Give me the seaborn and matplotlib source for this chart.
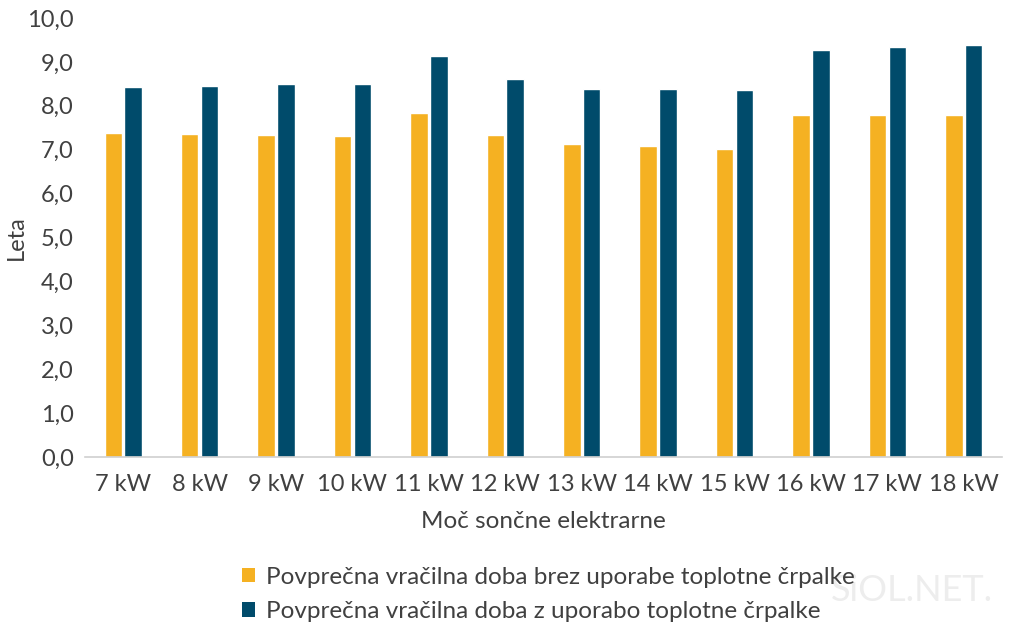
import matplotlib
matplotlib.use("Agg")
import matplotlib.pyplot as plt
import seaborn as sns
import pandas as pd
from matplotlib.ticker import FuncFormatter, MultipleLocator
from matplotlib.patches import Patch

categories = ["7 kW", "8 kW", "9 kW", "10 kW", "11 kW", "12 kW",
              "13 kW", "14 kW", "15 kW", "16 kW", "17 kW", "18 kW"]
brez = [7.39, 7.36, 7.34, 7.32, 7.83, 7.33, 7.12, 7.09, 7.02, 7.78, 7.79, 7.80]
z_crpalko = [8.43, 8.46, 8.49, 8.49, 9.13, 8.60, 8.39, 8.39, 8.35, 9.28, 9.33, 9.38]
series_names = ["Povprečna vračilna doba brez uporabe toplotne črpalke",
                "Povprečna vračilna doba z uporabo toplotne črpalke"]
colors = ["#F5B122", "#004B6B"]

df = pd.DataFrame({
    "cat": categories * 2,
    "val": brez + z_crpalko,
    "serie": [series_names[0]] * len(categories) + [series_names[1]] * len(categories),
})

sns.set_theme(style="white")
plt.rcParams["font.family"] = ["Lato", "DejaVu Sans"]

fig = plt.figure(figsize=(10.24, 6.38), dpi=100)
ax = fig.add_axes([0.083, 0.2837, 0.8955, 0.6881])

sns.barplot(data=df, x="cat", y="val", hue="serie", palette=colors,
            width=0.52, gap=0.12, ax=ax, legend=False, saturation=1)

ax.set_ylim(0, 10)
ax.set_xlim(-0.5, len(categories) - 0.5)
ax.yaxis.set_major_locator(MultipleLocator(1))
ax.yaxis.set_major_formatter(FuncFormatter(lambda v, p: f"{v:.1f}".replace(".", ",")))

for s in ["top", "right", "left"]:
    ax.spines[s].set_visible(False)
ax.spines["bottom"].set_color("#d0d0d0")
ax.spines["bottom"].set_linewidth(1.2)
ax.tick_params(axis="both", length=0, labelsize=17, colors="#404040")
ax.tick_params(axis="x", pad=12)
ax.tick_params(axis="y", pad=8)

ax.set_xlabel("Moč sončne elektrarne", fontsize=17.5, color="#404040", labelpad=12)
ax.set_ylabel("Leta", fontsize=17, color="#404040")
ax.yaxis.set_label_coords(-0.0635, 0.5)

handles = [Patch(facecolor=c, edgecolor="none") for c in colors]
fig.legend(handles, series_names, loc="upper left", bbox_to_anchor=(0.2363, 0.112),
           frameon=False, fontsize=17.5, labelcolor="#404040",
           borderpad=0, borderaxespad=0,
           handlelength=0.55, handleheight=0.55, handletextpad=0.45, labelspacing=0.55)

fig.text(0.97, 0.075, "SiOL.NET.", fontsize=26, color="#ededed", ha="right", va="center",
         zorder=0)

fig.savefig("out.png", dpi=100)
